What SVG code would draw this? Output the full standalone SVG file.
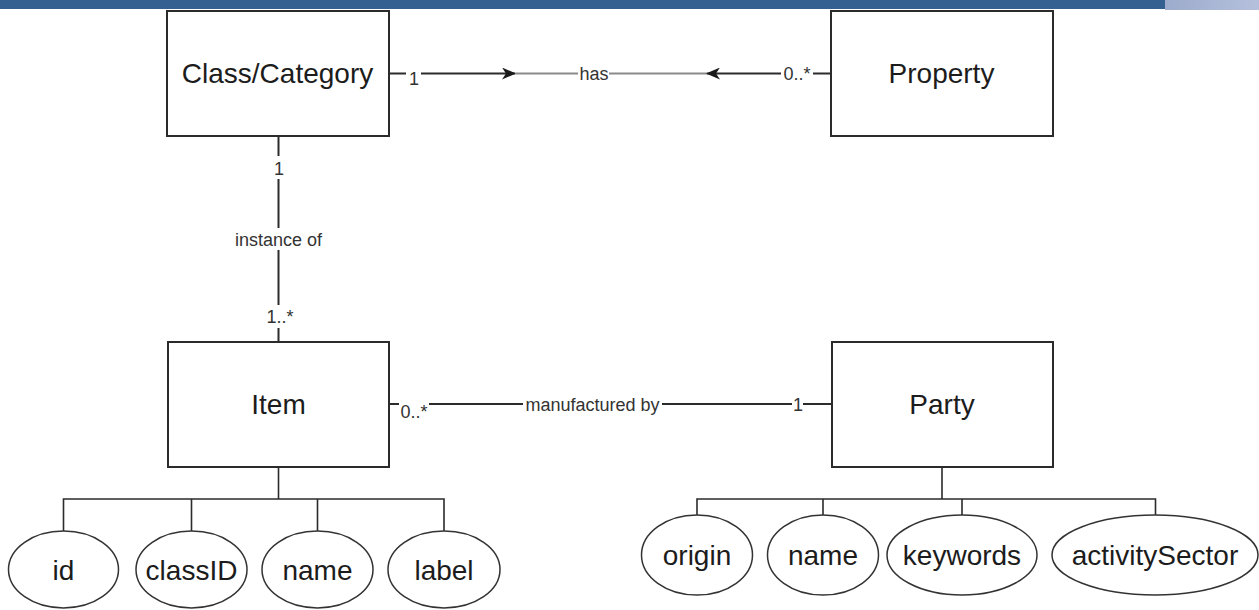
<svg xmlns="http://www.w3.org/2000/svg" width="1259" height="610" viewBox="0 0 1259 610">
  <defs>
    <linearGradient id="barFade" x1="0" y1="0" x2="1" y2="0">
      <stop offset="0" stop-color="#9dabcc"/>
      <stop offset="1" stop-color="#b4c0dc"/>
    </linearGradient>
    <marker id="arrow" viewBox="0 0 14 12" refX="13" refY="6" markerWidth="14" markerHeight="12" markerUnits="userSpaceOnUse" orient="auto">
      <path d="M0,0 L14,6 L0,12 L4,6 Z" fill="#1a1a1a"/>
    </marker>
    <style>
      .box { fill: #ffffff; stroke: #2b2b2b; stroke-width: 2; }
      .attr { fill: #ffffff; stroke: #333333; stroke-width: 1.5; }
      .wire { fill: none; stroke: #2b2b2b; stroke-width: 2; }
      .thin { fill: none; stroke: #2b2b2b; stroke-width: 1.6; }
      .grey { fill: none; stroke: #8a8a8a; stroke-width: 2; }
      .title { font-family: "Liberation Sans", Arial, sans-serif; font-size: 28px; fill: #1c1c1c; text-anchor: middle; }
      .field { font-family: "Liberation Sans", Arial, sans-serif; font-size: 28px; fill: #1c1c1c; text-anchor: middle; }
      .lbl { font-family: "Liberation Sans", Arial, sans-serif; font-size: 18px; fill: #333333; text-anchor: middle; }
    </style>
  </defs>

  <rect width="1259" height="610" fill="#ffffff"/>

  <!-- header band -->
  <rect x="0" y="0" width="1166" height="9" fill="#335f91"/>
  <rect x="1165" y="0" width="94" height="10" fill="url(#barFade)"/>

  <!-- connectors -->
  <g id="connectors">
    <!-- has -->
    <line class="wire" x1="389" y1="73.5" x2="406" y2="73.5"/>
    <line class="wire" x1="421" y1="73.5" x2="515" y2="73.5" marker-end="url(#arrow)"/>
    <line class="grey" x1="515" y1="73.5" x2="578" y2="73.5"/>
    <line class="grey" x1="609" y1="73.5" x2="707" y2="73.5"/>
    <line class="wire" x1="781" y1="73.5" x2="707" y2="73.5" marker-end="url(#arrow)"/>
    <line class="wire" x1="813" y1="73.5" x2="831" y2="73.5"/>
    <text class="lbl" x="414" y="85">1</text>
    <text class="lbl" x="594" y="79.5">has</text>
    <text class="lbl" x="797" y="79.5">0..*</text>

    <!-- instance of -->
    <line class="wire" x1="278.5" y1="136" x2="278.5" y2="156"/>
    <line class="wire" x1="278.5" y1="179" x2="278.5" y2="228"/>
    <line class="wire" x1="278.5" y1="250" x2="278.5" y2="305"/>
    <line class="wire" x1="278.5" y1="328" x2="278.5" y2="342"/>
    <text class="lbl" x="279" y="174.5">1</text>
    <text class="lbl" x="278.5" y="246">instance of</text>
    <text class="lbl" x="280" y="323">1..*</text>

    <!-- manufactured by -->
    <line class="wire" x1="389" y1="404" x2="399" y2="404"/>
    <line class="wire" x1="429" y1="404" x2="523" y2="404"/>
    <line class="wire" x1="662" y1="404" x2="792" y2="404"/>
    <line class="wire" x1="803" y1="404" x2="832" y2="404"/>
    <text class="lbl" x="414" y="417.5">0..*</text>
    <text class="lbl" x="592.5" y="410.5">manufactured by</text>
    <text class="lbl" x="798" y="410.5">1</text>

    <!-- Item attributes -->
    <path class="thin" d="M278.5,467 V499 M63.5,531 V499 H444 V531 M191.5,499 V531 M317.5,499 V531"/>
    <!-- Party attributes -->
    <path class="thin" d="M942,467 V499 M697,515 V499 H1155.5 V515 M823,499 V515 M962,499 V515"/>
  </g>

  <!-- entities -->
  <g id="class-category">
    <rect class="box" x="167" y="11" width="222" height="125"/>
    <text class="title" x="277.5" y="83">Class/Category</text>
  </g>
  <g id="property">
    <rect class="box" x="831" y="11" width="222" height="125"/>
    <text class="title" x="941.5" y="83">Property</text>
  </g>
  <g id="item">
    <rect class="box" x="168" y="342" width="221" height="125"/>
    <text class="title" x="278.5" y="414">Item</text>
  </g>
  <g id="party">
    <rect class="box" x="832" y="342" width="221" height="125"/>
    <text class="title" x="942" y="414">Party</text>
  </g>

  <!-- Item attributes -->
  <g id="item-id">
    <ellipse class="attr" cx="63.5" cy="569.5" rx="55" ry="38.5"/>
    <text class="field" x="63.5" y="579.5">id</text>
  </g>
  <g id="item-classID">
    <ellipse class="attr" cx="191.5" cy="569.5" rx="55.5" ry="38.5"/>
    <text class="field" x="191.5" y="579.5">classID</text>
  </g>
  <g id="item-name">
    <ellipse class="attr" cx="317.5" cy="569.5" rx="55.5" ry="38.5"/>
    <text class="field" x="317.5" y="579.5">name</text>
  </g>
  <g id="item-label">
    <ellipse class="attr" cx="444" cy="569.5" rx="56" ry="38.5"/>
    <text class="field" x="444" y="579.5">label</text>
  </g>

  <!-- Party attributes -->
  <g id="party-origin">
    <ellipse class="attr" cx="697" cy="555" rx="55.5" ry="40"/>
    <text class="field" x="697" y="564.5">origin</text>
  </g>
  <g id="party-name">
    <ellipse class="attr" cx="823" cy="555" rx="55.5" ry="40"/>
    <text class="field" x="823" y="564.5">name</text>
  </g>
  <g id="party-keywords">
    <ellipse class="attr" cx="962" cy="555" rx="75" ry="40"/>
    <text class="field" x="962" y="564.5">keywords</text>
  </g>
  <g id="party-activitySector">
    <ellipse class="attr" cx="1155" cy="555" rx="103" ry="40"/>
    <text class="field" x="1155" y="564.5">activitySector</text>
  </g>
</svg>
